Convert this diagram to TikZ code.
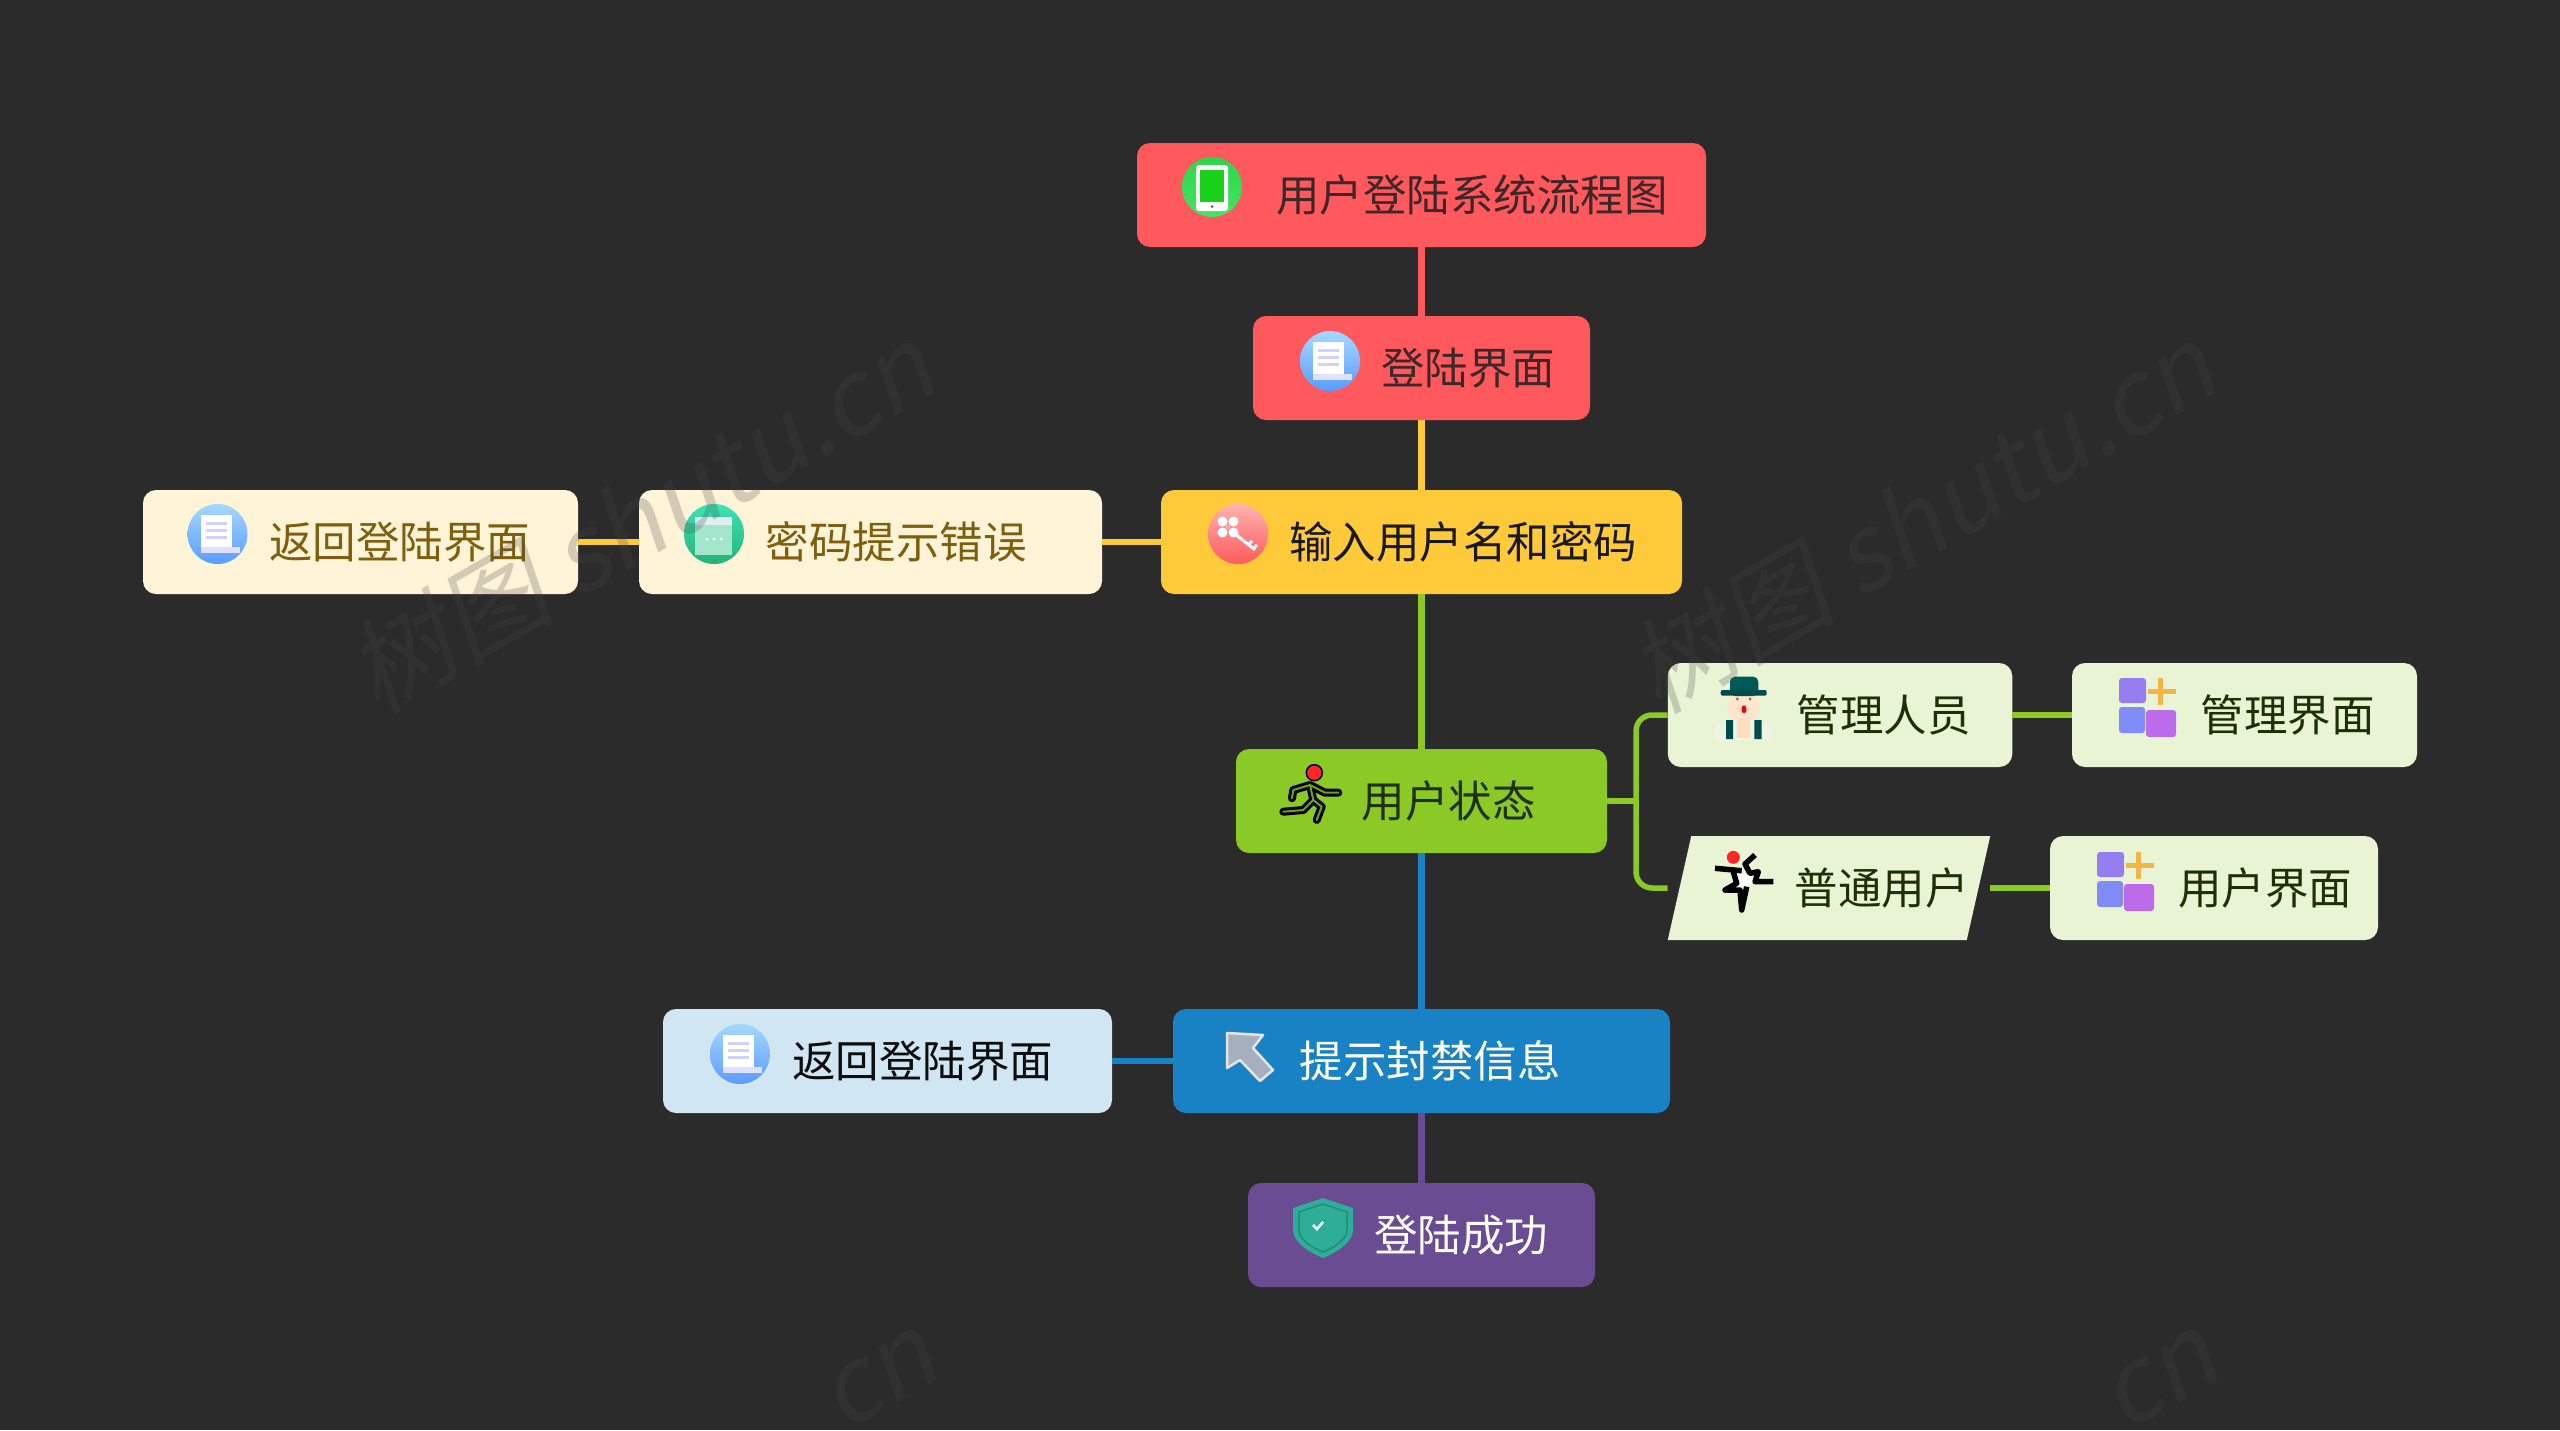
\documentclass[tikz,border=0pt]{standalone}
\usepackage{fontspec}
\setmainfont{Noto Sans CJK SC}
\newfontfamily\wmfont[FakeSlant=0.2]{Noto Sans CJK SC}
\definecolor{mapbg}{HTML}{2B2B2B}
\definecolor{mapred}{HTML}{FF595E}
\definecolor{mapyellow}{HTML}{FFCA3A}
\definecolor{mapgreen}{HTML}{8AC926}
\definecolor{mapblue}{HTML}{1982C4}
\definecolor{mappurple}{HTML}{6A4C93}
\definecolor{paleyellow}{HTML}{FFF4D8}
\definecolor{palegreen}{HTML}{E8F4D4}
\definecolor{paleblue}{HTML}{D1E6F3}
\definecolor{redink}{HTML}{3D2729}
\definecolor{yellowink}{HTML}{7F5E0C}
\definecolor{greenink}{HTML}{1F3008}
\definecolor{tealicon}{HTML}{2FAE97}
\definecolor{phonetop}{HTML}{2DD648}
\definecolor{phonelow}{HTML}{46E264}
\definecolor{doctop}{HTML}{A5D8FF}
\definecolor{doclow}{HTML}{5A9CFF}
\definecolor{windowtop}{HTML}{3DE3B5}
\definecolor{windowlow}{HTML}{25B277}
\definecolor{windowpage}{HTML}{A3E6CB}
\definecolor{blockone}{HTML}{967DF0}
\definecolor{blocktwo}{HTML}{808CF7}
\definecolor{blockthree}{HTML}{BC6BEA}
\definecolor{blockplus}{HTML}{F2B648}
\definecolor{cursorgrey}{HTML}{A6AFBD}
\tikzset{
  mapbox/.style={rectangle,rounded corners=13pt,minimum height=104pt,inner sep=0pt,
    text height=38pt,text depth=5pt,font=\fontsize{43.5}{52}\selectfont},
  redbox/.style={mapbox,fill=mapred,text=redink},
  yellowbox/.style={mapbox,fill=mapyellow,text=black!90},
  greenbox/.style={mapbox,fill=mapgreen,text=greenink},
  bluebox/.style={mapbox,fill=mapblue,text=white},
  purplebox/.style={mapbox,fill=mappurple,text=white},
  yellowsub/.style={mapbox,fill=paleyellow,text=yellowink},
  greensub/.style={mapbox,fill=palegreen,text=greenink},
  bluesub/.style={mapbox,fill=paleblue,text=black!95},
  trunk/.style={line width=7pt},
  twig/.style={line width=5.5pt},
  wmark/.style={font=\fontsize{104}{110}\wmfont,rotate=30,text=black!72!white,text opacity=.24},
  pics/phoneicon/.style={code={
    \shade[top color=phonetop,bottom color=phonelow] (0,0) circle (30);
    \fill[white,rounded corners=3pt] (-16,-22) rectangle (16,24);
    \fill[green!80!black!90!white] (-12,-17) rectangle (12,15);
    \fill[green!60!black] (0,19.5) circle (1.5);}},
  pics/docicon/.style={code={
    \shade[top color=doctop,bottom color=doclow] (0,0) circle (30);
    \fill[white] (-17,-19) rectangle (14,13);
    \fill[blue!12!white] (-17,13) rectangle (22,19);
    \foreach \y in {-12,-5,2} {\fill[blue!18!white] (-12,\y) rectangle (9,\y+3);}}},
  pics/keyicon/.style={code={
    \shade[top color=red!30!white,bottom color=red!65!white] (0,0) circle (30);
    \foreach \a/\b in {-5.5/-5.5,5.5/-5.5,-5.5/5.5,5.5/5.5} {\fill[white] (\a-10,\b-7) circle (5);}
    \fill[red!35!white] (-10,-7) circle (2.5);
    \draw[white,line width=3pt] (-4,-1) -- (17,16);
    \draw[white,line width=3pt] (10,11) -- (14,7) (15,15) -- (19,11);}},
  pics/windowicon/.style={code={
    \shade[top color=windowtop,bottom color=windowlow] (0,0) circle (30);
    \fill[windowpage] (-19,-17) rectangle (18,21);
    \fill[white!88!teal] (-19,-17) rectangle (18,-9);
    \foreach \x in {-7,0,7} {\fill[white] (\x,5) circle (1.5);}}},
  pics/runnericon/.style={code={
    \def\runlimbs{(-18,3.3) -- (-16.7,-5) -- (0,-10) -- (3.3,5) -- (11.7,11.7) -- (6.7,25)
      (0,-10) -- (15,-2.3) -- (28.3,-2.3) (3.3,5) -- (-6.7,15) -- (-26.7,16.7)}
    \draw[black,line width=8pt,line cap=round,line join=round] \runlimbs;
    \draw[mapgreen!80!black,line width=2pt,line cap=round,line join=round] \runlimbs;
    \filldraw[fill=red!85!white,draw=black,line width=1.5pt] (4.3,-22.3) circle (8);}},
  pics/hatmanicon/.style={code={
    \fill[black!5!palegreen!50!white] (-27,32) -- (-27,18) -- (-8,12) -- (10,12) -- (29,18) -- (29,32) -- cycle;
    \fill[orange!20!white] (1.3,-1.3) ellipse (16 and 15);
    \fill[orange!25!white] (-5,10) rectangle (8,30);
    \fill[teal!70!black,rounded corners=5pt] (-12,-12) rectangle (16.3,-31.3);
    \fill[teal!60!black,rounded corners=2pt] (-21.3,-18) rectangle (24.7,-12.3);
    \fill[teal!60!black] (-16,12) rectangle (-9,31) (12.3,12) rectangle (19.7,31);
    \fill[black!60] (-4.7,-9) circle (1.5) (8,-9) circle (1.5);
    \fill[red!70!purple] (2,1.3) ellipse (2.5 and 4);}},
  pics/fallicon/.style={code={
    \fill[white] (-7,-8) -- (6,-6) -- (11,0) -- (3,5) -- (-3,10) -- (-6,3) -- cycle;
    \draw[black,line width=5.5pt,line join=round]
      (-29,-12.7) -- (-2.3,-10.3)
      (11,-26) -- (1,-17) -- (6,-7.7) -- (14.3,-9.3) -- (11,.7) -- (29.3,.7)
      (-10.7,-9.3) -- (-7.3,2.3) -- (-19,9) -- (-4,9) -- (-2.3,29) -- (2.7,5.7);
    \fill[red!85!white] (-10.7,-23.7) circle (6.5);}},
  pics/blocksicon/.style={code={
    \fill[blockone,rounded corners=3pt] (-29,-29) rectangle (-2,-4);
    \fill[blocktwo,rounded corners=3pt] (-29,0) rectangle (-3,26);
    \fill[blockthree,rounded corners=3pt] (-2,3) rectangle (28,30);
    \draw[blockplus,line width=5pt] (12,-29) -- (12,-2) (0,-16) -- (28,-16);}},
  pics/cursoricon/.style={code={
    \filldraw[fill=cursorgrey,draw=white!90!black,line width=2.5pt,line join=round]
      (-21,-24) -- (15,-22) -- (5,-9) -- (25,13) -- (12,24) -- (-8,3) -- (-21,11) -- cycle;}},
  pics/shieldicon/.style={code={
    \fill[tealicon] (0,-30) -- (30,-20) -- (30,2) .. controls (30,15) and (12,25) .. (0,30)
      .. controls (-12,25) and (-30,15) .. (-30,2) -- (-30,-20) -- cycle;
    \draw[tealicon!80!black,line width=1.5pt] (0,-24) -- (24,-16) -- (24,2) .. controls (24,12) and (10,20) .. (0,24)
      .. controls (-10,20) and (-24,12) .. (-24,2) -- (-24,-16) -- cycle;
    \draw[white,line width=2.5pt] (-10,-3) -- (-6,1) -- (0,-6);}},
}
\begin{document}
\begin{tikzpicture}[x=1pt,y=-1pt]
\fill[mapbg] (0,0) rectangle (2560,1430);
\useasboundingbox (0,0) rectangle (2560,1430);
% main column
\node[redbox,minimum width=569pt] (title) at (1421.5,195) {\hspace*{101pt}用户登陆系统流程图};
\node[redbox,minimum width=337pt] (login) at (1421.5,368) {\hspace*{93pt}登陆界面};
\node[yellowbox,minimum width=521pt] (input) at (1421.5,542) {\hspace*{83pt}输入用户名和密码};
\node[greenbox,minimum width=371pt] (state) at (1421.5,801) {\hspace*{54pt}用户状态};
\node[bluebox,minimum width=497pt] (notice) at (1421.5,1061) {\hspace*{17pt}提示封禁信息};
\node[purplebox,minimum width=347pt] (done) at (1421.5,1235) {\hspace*{79pt}登陆成功};
% side branches
\node[yellowsub,minimum width=463pt] (wrong) at (870.5,542) {\hspace*{51.5pt}密码提示错误};
\node[yellowsub,minimum width=435pt] (back) at (360.5,542) {\hspace*{78pt}返回登陆界面};
\node[bluesub,minimum width=449pt] (banback) at (887.5,1061) {\hspace*{70pt}返回登陆界面};
\node[greensub,minimum width=344.5pt] (admin) at (1840,715) {\hspace*{87pt}管理人员};
\node[greensub,minimum width=345pt] (adminui) at (2244.5,715) {\hspace*{86pt}管理界面};
\node[mapbox,text=greenink,minimum width=322.5pt,rounded corners=0pt,
  path picture={\fill[palegreen] (path picture bounding box.south west)
    -- ([xshift=23.5pt]path picture bounding box.north west)
    -- (path picture bounding box.north east)
    -- ([xshift=-23.5pt]path picture bounding box.south east) -- cycle;}]
  (plain) at (1829,888) {\hspace*{105pt}普通用户};
\node[greensub,minimum width=328pt] (plainui) at (2214,888) {\hspace*{102pt}用户界面};
% connectors
\coordinate (fork) at (1636,801);
\draw[trunk,mapred] (title.south) -- (login.north);
\draw[trunk,mapyellow] (login.south) -- (input.north);
\draw[trunk,mapgreen] (input.south) -- (state.north);
\draw[trunk,mapblue] (state.south) -- (notice.north);
\draw[trunk,mappurple] (notice.south) -- (done.north);
\draw[twig,mapyellow] (input.west) -- (wrong.east);
\draw[twig,mapyellow] (wrong.west) -- (back.east);
\draw[twig,mapblue] (notice.west) -- (banback.east);
\draw[twig,mapgreen] (state.east) -- (fork);
\draw[twig,mapgreen,rounded corners=16pt] (admin.west) -| (fork) |- (plain.west);
\draw[twig,mapgreen] (admin.east) -- (adminui.west);
\draw[twig,mapgreen] (plain.east) -- (plainui.west);
% icons
\pic at (1212,187) {phoneicon};
\pic at (1330,361) {docicon};
\pic at (1238,534) {keyicon};
\pic at (714,534) {windowicon};
\pic at (217.5,534) {docicon};
\pic at (740,1054) {docicon};
\pic at (1310,795) {runnericon};
\pic at (1742,708) {hatmanicon};
\pic at (1744,881) {fallicon};
\pic at (2148,707) {blocksicon};
\pic at (2126,881) {blocksicon};
\pic at (1248,1057) {cursoricon};
\pic at (1323,1228) {shieldicon};
% watermark
\node[wmark] (mark1) at (640,518) {树图 shutu.cn};
\node[wmark] (mark2) at (1921,518) {树图 shutu.cn};
\node[wmark] (mark3) at (880,1380) {cn};
\node[wmark] (mark4) at (2161,1380) {cn};
\end{tikzpicture}
\end{document}
